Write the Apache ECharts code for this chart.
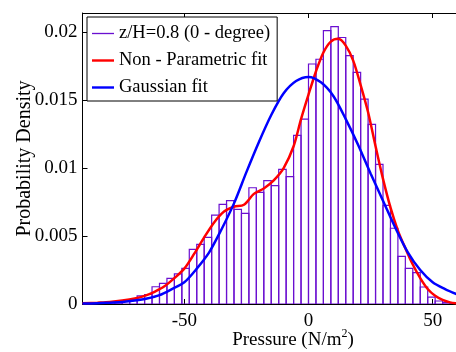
<!DOCTYPE html>
<html>
<head>
<meta charset="utf-8">
<script src="https://cdn.jsdelivr.net/npm/echarts@6/dist/echarts.min.js"></script>
<style>html,body{margin:0;padding:0;background:#fff;}#c{width:456px;height:352px;}</style>
</head>
<body>
<div id="c"></div>
<script>
// Histogram bin edges (N/m^2) and densities
var binEdges = [-90,-87,-84,-81,-78,-75,-72,-69,-66,-63,-60,-57,-54,-51,-48,-45,-42,-39,-36,-33,-30,-27,-24,-21,-18,-15,-12,-9,-6,-3,0,3,6,9,12,15,18,21,24,27,30,33,36,39,42,45,48,51,54,57,60];
var histDensity = [0.00002,0.00003,0.00005,0.0001,0.0001,0.0002,0.0003,0.0006,0.0007,0.00127,
  0.00152,0.00189,0.00221,0.00262,0.00402,0.00439,0.0049,0.00654,0.00733,0.0076,
  0.00696,0.00667,0.00855,0.00821,0.00907,0.0087,0.0099,0.00936,0.0124,0.0136,
  0.01765,0.018,0.0201,0.0204,0.0196,0.01826,0.01704,0.01507,0.01321,0.01027,
  0.00725,0.00557,0.0035,0.00262,0.0023,0.00125,0.0005,0.00022,0.0001,0.00005];

// Non-parametric fit (red)
var kdeX = [-91,-85,-80,-75,-70,-66,-62,-58,-54,-50,-46,-42,-38,-34,-30,-26,-22,-18,-14,-10,-6,-3,0,3,6,9,12,15,18,21,24,27,30,33,36,39,42,45,48,51,54,57,60];
var kdeY = [0.00005,0.0001,0.00015,0.00025,0.0004,0.0006,0.0009,0.0013,0.0019,0.0026,0.0037,0.0049,0.006,0.0068,0.00715,0.0073,0.0081,0.0085,0.0091,0.01,0.0116,0.0136,0.0154,0.0171,0.0185,0.0193,0.0195,0.019,0.0179,0.0161,0.0141,0.0116,0.0092,0.0071,0.0054,0.0041,0.0029,0.0019,0.0011,0.0006,0.0003,0.00012,0.00005];

// Gaussian fit (blue)
var gaussX = [-91,-85,-80,-75,-70,-65,-60,-55,-50,-45,-40,-35,-30,-25,-20,-15,-10,-5,0,5,10,15,20,25,30,35,40,45,50,55,60];
var gaussY = [0.00003,0.00005,0.0001,0.00015,0.00025,0.0004,0.00065,0.0011,0.0016,0.0026,0.0038,0.0055,0.0074,0.0097,0.0119,0.0139,0.0155,0.0164,0.0167,0.0163,0.0153,0.0136,0.0117,0.0096,0.0076,0.0056,0.0038,0.0025,0.0016,0.0011,0.0007];

var xTicks = [-50, 0, 50];
var xTickLabels = ['-50', '0', '50'];
var yTicks = [0, 0.005, 0.01, 0.015, 0.02];
var yTickLabels = ['0', '0.005', '0.01', '0.015', '0.02'];
var seriesNames = ['z/H=0.8 (0 - degree)', 'Non - Parametric fit', 'Gaussian fit'];

var histData = histDensity.map(function (d, i) { return [binEdges[i], binEdges[i + 1], d]; });
var kdeData = kdeX.map(function (x, i) { return [x, kdeY[i]]; });
var gaussData = gaussX.map(function (x, i) { return [x, gaussY[i]]; });

var FONT = 'Liberation Serif';
var PURPLE = '#6a0fd0';
var chart = echarts.init(document.getElementById('c'), null, {renderer: 'canvas'});
chart.setOption({
  animation: false,
  backgroundColor: '#fff',
  grid: {left: 82.5, top: 13, width: 375, height: 291, containLabel: false, outerBoundsMode: 'none'},
  legend: {
    orient: 'vertical', left: 87, top: 17, padding: [7, 7, 4, 5],
    backgroundColor: '#fff', borderColor: '#000', borderWidth: 1,
    itemWidth: 22, itemHeight: 10, itemGap: 8,
    textStyle: {fontFamily: FONT, fontSize: 18.5, color: '#000', lineHeight: 18},
    data: [
      {name: seriesNames[0], icon: 'path://M0 0H100V6H0Z', itemStyle: {color: PURPLE, borderWidth: 0}},
      {name: seriesNames[1], icon: 'path://M0 0H100V11H0Z', itemStyle: {color: '#ff0000', borderWidth: 0}},
      {name: seriesNames[2], icon: 'path://M0 0H100V11H0Z', itemStyle: {color: '#0000ff', borderWidth: 0}}
    ],
    z: 20
  },
  xAxis: [{
    type: 'value', position: 'bottom', min: -91, max: 60,
    axisLine: {show: true, onZero: false, lineStyle: {color: '#000', width: 1}},
    axisTick: {show: true, inside: true, length: 5, customValues: xTicks, lineStyle: {color: '#000'}},
    axisLabel: {show: true, margin: 8, customValues: xTicks, color: '#000', fontFamily: FONT, fontSize: 19,
      formatter: function (v) { var i = xTicks.indexOf(v); return i >= 0 ? xTickLabels[i] : ''; }},
    splitLine: {show: false},
    name: '{a|Pressure (N/m}{s|2}{a|)}', nameLocation: 'middle', nameGap: 24, nameMoveOverlap: false,
    nameTextStyle: {padding: [0, 0, 0, 46], rich: {
      a: {fontFamily: FONT, fontSize: 19, color: '#000', verticalAlign: 'bottom', lineHeight: 22},
      s: {fontFamily: FONT, fontSize: 12, color: '#000', verticalAlign: 'top', lineHeight: 22, padding: [0, 0, 8, 0]}
    }}
  }, {
    type: 'value', position: 'top', min: -91, max: 60,
    axisLine: {show: true, onZero: false, lineStyle: {color: '#000', width: 1}},
    axisTick: {show: true, inside: true, length: 5, customValues: xTicks, lineStyle: {color: '#000'}},
    axisLabel: {show: false},
    splitLine: {show: false}
  }],
  yAxis: {
    type: 'value', min: 0, max: 0.0214,
    axisLine: {show: true, onZero: false, lineStyle: {color: '#000', width: 1}},
    axisTick: {show: true, inside: true, length: 5, customValues: yTicks, lineStyle: {color: '#000'}},
    axisLabel: {show: true, margin: 5, customValues: yTicks, color: '#000', fontFamily: FONT, fontSize: 19,
      formatter: function (v) { for (var i = 0; i < yTicks.length; i++) { if (Math.abs(yTicks[i] - v) < 1e-9) return yTickLabels[i]; } return ''; }},
    splitLine: {show: false},
    name: 'Probability Density', nameLocation: 'middle', nameGap: 48, nameMoveOverlap: false,
    nameTextStyle: {fontFamily: FONT, fontSize: 20, color: '#000'}
  },
  series: [{
    name: seriesNames[0], type: 'custom', xAxisIndex: 0, color: PURPLE,
    itemStyle: {color: PURPLE},
    data: histData,
    encode: {x: [0, 1], y: 2},
    renderItem: function (params, api) {
      var p0 = api.coord([api.value(0), api.value(2)]);
      var p1 = api.coord([api.value(1), 0]);
      return {type: 'rect', shape: {x: p0[0], y: p0[1], width: p1[0] - p0[0], height: p1[1] - p0[1]},
        style: {fill: 'rgba(255,255,255,0)', stroke: PURPLE, lineWidth: 1.2}};
    },
    clip: true
  }, {
    name: seriesNames[1], type: 'line', xAxisIndex: 0, data: kdeData, smooth: 0.3,
    showSymbol: false, symbol: 'none', color: '#ff0000', lineStyle: {color: '#ff0000', width: 2.5}, z: 3
  }, {
    name: seriesNames[2], type: 'line', xAxisIndex: 0, data: gaussData, smooth: 0.3,
    showSymbol: false, symbol: 'none', color: '#0000ff', lineStyle: {color: '#0000ff', width: 2.5}, z: 4
  }]
});
</script>
</body>
</html>
